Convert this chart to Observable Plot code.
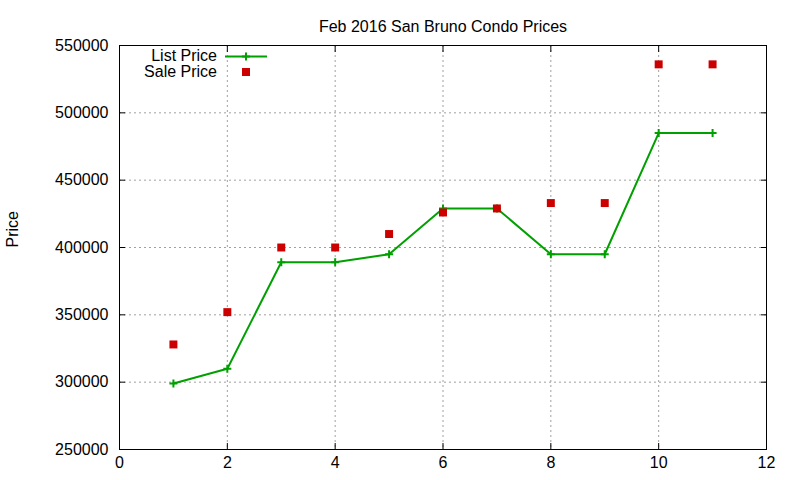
<!DOCTYPE html>
<html>
<head>
<meta charset="utf-8">
<script src="https://cdn.jsdelivr.net/npm/d3@7"></script>
<script src="https://cdn.jsdelivr.net/npm/@observablehq/plot@0.6"></script>
<style>
  html, body { margin: 0; padding: 0; background: white; }
  #wrap { position: relative; width: 800px; height: 480px; font-family: "Liberation Sans", Arial, sans-serif; }
  #legend { position: absolute; left: 0; top: 0; }
</style>
</head>
<body>
<div id="wrap"></div>
<script>
const title = "Feb 2016 San Bruno Condo Prices";
const yLabel = "Price";
const seriesNames = ["List Price", "Sale Price"];
const units = [1, 2, 3, 4, 5, 6, 7, 8, 9, 10, 11];
const listPrice = [299000, 310000, 389000, 389000, 395000, 429000, 429000, 395000, 395000, 485000, 485000];
const salePrice = [328000, 352000, 400000, 400000, 410000, 426000, 429000, 433000, 433000, 536000, 536000];
const xTicks = [0, 2, 4, 6, 8, 10, 12];
const yTicks = [250000, 300000, 350000, 400000, 450000, 500000, 550000];

const green = "#00a000";
const red = "#cc0000";

const listData = units.map((u, i) => ({x: u, y: listPrice[i]}));
const saleData = units.map((u, i) => ({x: u, y: salePrice[i]}));

const gridStyle = {stroke: "#a0a0a0", strokeOpacity: 1, strokeDasharray: "2,3", strokeWidth: 1};

const chart = Plot.plot({
  width: 800,
  height: 480,
  marginTop: 45,
  marginBottom: 31,
  marginLeft: 119,
  marginRight: 34,
  style: {fontFamily: "'Liberation Sans', Arial, sans-serif", fontSize: "16px", background: "white", color: "black", overflow: "visible"},
  x: {domain: [0, 12], ticks: xTicks, label: null},
  y: {domain: [250000, 550000], ticks: yTicks, label: null},
  marks: [
    Plot.gridX(xTicks, gridStyle),
    Plot.gridY(yTicks, gridStyle),
    Plot.axisX(xTicks, {anchor: "bottom", tickSize: -6, tickPadding: 13, tickFormat: d => String(d), label: null}),
    Plot.axisX(xTicks, {anchor: "top", tickSize: -6, tickFormat: () => "", label: null}),
    Plot.axisY(yTicks, {anchor: "left", tickSize: -6, tickPadding: 17, tickFormat: d => String(d), label: null}),
    Plot.axisY(yTicks, {anchor: "right", tickSize: -6, tickFormat: () => "", label: null}),
    Plot.frame({stroke: "black", strokeWidth: 1}),
    Plot.text([title], {frameAnchor: "top", dy: -25, fontSize: 16}),
    Plot.text([yLabel], {frameAnchor: "left", dx: -107, rotate: -90, fontSize: 16}),
    Plot.line(listData, {x: "x", y: "y", stroke: green, strokeWidth: 2}),
    Plot.dot(listData, {x: "x", y: "y", symbol: "plus", r: 2.7, stroke: green, strokeWidth: 2}),
    Plot.dot(saleData, {x: "x", y: "y", symbol: "square", r: 4.5, fill: red, stroke: "none"})
  ]
});

const wrap = document.getElementById("wrap");
wrap.appendChild(chart);

// Legend overlay (gnuplot-style key, top-left inside the frame)
const ns = "http://www.w3.org/2000/svg";
const leg = document.createElementNS(ns, "svg");
leg.setAttribute("id", "legend");
leg.setAttribute("width", 300);
leg.setAttribute("height", 90);
leg.setAttribute("font-family", "'Liberation Sans', Arial, sans-serif");
leg.setAttribute("font-size", "16");
leg.innerHTML = `
  <text x="217" y="61" text-anchor="end" fill="black">${seriesNames[0]}</text>
  <line x1="225" y1="56.5" x2="267" y2="56.5" stroke="${green}" stroke-width="2"/>
  <line x1="242" y1="56.5" x2="250" y2="56.5" stroke="${green}" stroke-width="2"/>
  <line x1="246" y1="52.5" x2="246" y2="60.5" stroke="${green}" stroke-width="2"/>
  <text x="217" y="76.5" text-anchor="end" fill="black">${seriesNames[1]}</text>
  <rect x="242" y="68" width="8" height="8" fill="${red}"/>
`;
wrap.appendChild(leg);
</script>
</body>
</html>
